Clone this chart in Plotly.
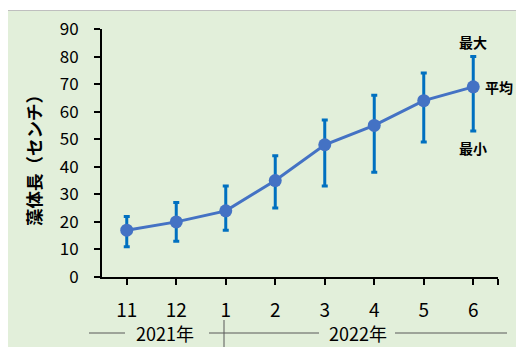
import plotly.graph_objects as go

months = ["11", "12", "1", "2", "3", "4", "5", "6"]
mean_vals = [17, 20, 24, 35, 48, 55, 64, 69]
max_vals = [22, 27, 33, 44, 57, 66, 74, 80]
min_vals = [11, 13, 17, 25, 33, 38, 49, 53]
y_ticks = [0, 10, 20, 30, 40, 50, 60, 70, 80, 90]
years = ["2021年", "2022年"]
y_title = "藻体長（センチ）"
labels = {"max": "最大", "mean": "平均", "min": "最小"}

FONT = "Noto Sans CJK JP"
xs = list(range(len(months)))
err_plus = [mx - m for mx, m in zip(max_vals, mean_vals)]
err_minus = [m - mn for m, mn in zip(mean_vals, min_vals)]

fig = go.Figure()
fig.add_trace(go.Scatter(
    x=xs, y=mean_vals, mode="lines+markers",
    line=dict(color="#4472C4", width=3),
    marker=dict(color="#4472C4", size=13),
    error_y=dict(type="data", array=err_plus, arrayminus=err_minus,
                 color="#0070C0", thickness=3, width=3),
    showlegend=False, hoverinfo="skip",
))

OFF = 8  # page body margin
W, H = 524, 347
L, T = 94, 21
pw, ph = 396, 248
R = W - L - pw
B = H - T - ph

def px(x):
    return (x - OFF - L) / pw

def py(y):
    return (T + ph - (y - OFF)) / ph

shapes = [
    dict(type="rect", xref="paper", yref="paper", x0=px(7.5), x1=px(545), y0=py(370), y1=py(10.5),
         fillcolor="#E2EFDA", line=dict(color="#BFBFBF", width=1), layer="below"),
    dict(type="line", xref="paper", yref="paper", x0=px(89), x1=px(125), y0=py(333), y1=py(333),
         line=dict(color="#595959", width=1)),
    dict(type="line", xref="paper", yref="paper", x0=px(209), x1=px(319), y0=py(333), y1=py(333),
         line=dict(color="#595959", width=1)),
    dict(type="line", xref="paper", yref="paper", x0=px(395), x1=px(507), y0=py(333), y1=py(333),
         line=dict(color="#595959", width=1)),
    dict(type="line", xref="paper", yref="paper", x0=px(224), x1=px(224), y0=py(320), y1=py(350),
         line=dict(color="#595959", width=1)),
]

annotations = [
    dict(text=years[0], xref="paper", yref="paper", x=px(165), y=py(333), showarrow=False,
         font=dict(family=FONT, size=18, color="#000"), xanchor="center", yanchor="middle"),
    dict(text=years[1], xref="paper", yref="paper", x=px(358), y=py(333), showarrow=False,
         font=dict(family=FONT, size=18, color="#000"), xanchor="center", yanchor="middle"),
    dict(text="<b>" + y_title + "</b>", xref="paper", yref="paper", x=px(33), y=py(156),
         textangle=-90, showarrow=False, font=dict(family=FONT, size=17.5, color="#000"),
         xanchor="center", yanchor="middle"),
    dict(text="<b>" + labels["max"] + "</b>", xref="x", yref="y", x=xs[-1], y=max_vals[-1],
         yshift=15, yanchor="middle", showarrow=False, font=dict(family=FONT, size=14, color="#000")),
    dict(text="<b>" + labels["min"] + "</b>", xref="x", yref="y", x=xs[-1], y=min_vals[-1],
         yshift=-17, yanchor="middle", showarrow=False, font=dict(family=FONT, size=14, color="#000")),
    dict(text="<b>" + labels["mean"] + "</b>", xref="x", yref="y", x=xs[-1], y=mean_vals[-1],
         xshift=10, xanchor="left", showarrow=False, font=dict(family=FONT, size=14, color="#000")),
]

fig.update_layout(
    width=W, height=H,
    margin=dict(l=L, r=R, t=T, b=B, autoexpand=False),
    paper_bgcolor="white", plot_bgcolor="rgba(0,0,0,0)",
    shapes=shapes, annotations=annotations,
    font=dict(family=FONT, color="#000"),
    xaxis=dict(range=[-0.5, len(months) - 0.5], tickvals=xs + [len(months) - 0.5],
               ticktext=months + [""], showgrid=False, zeroline=False,
               showline=True, linecolor="#000", linewidth=2,
               ticks="outside", ticklen=6, tickwidth=2, tickcolor="#000",
               tickfont=dict(family=FONT, size=19, color="#000"), ticklabelstandoff=9),
    yaxis=dict(range=[0, 90], tickvals=y_ticks, showgrid=False, zeroline=False,
               showline=True, linecolor="#000", linewidth=2,
               ticks="outside", ticklen=6, tickwidth=2, tickcolor="#000",
               tickfont=dict(family=FONT, size=17, color="#000"), ticklabelstandoff=12),
)

fig.write_html("out.html")
